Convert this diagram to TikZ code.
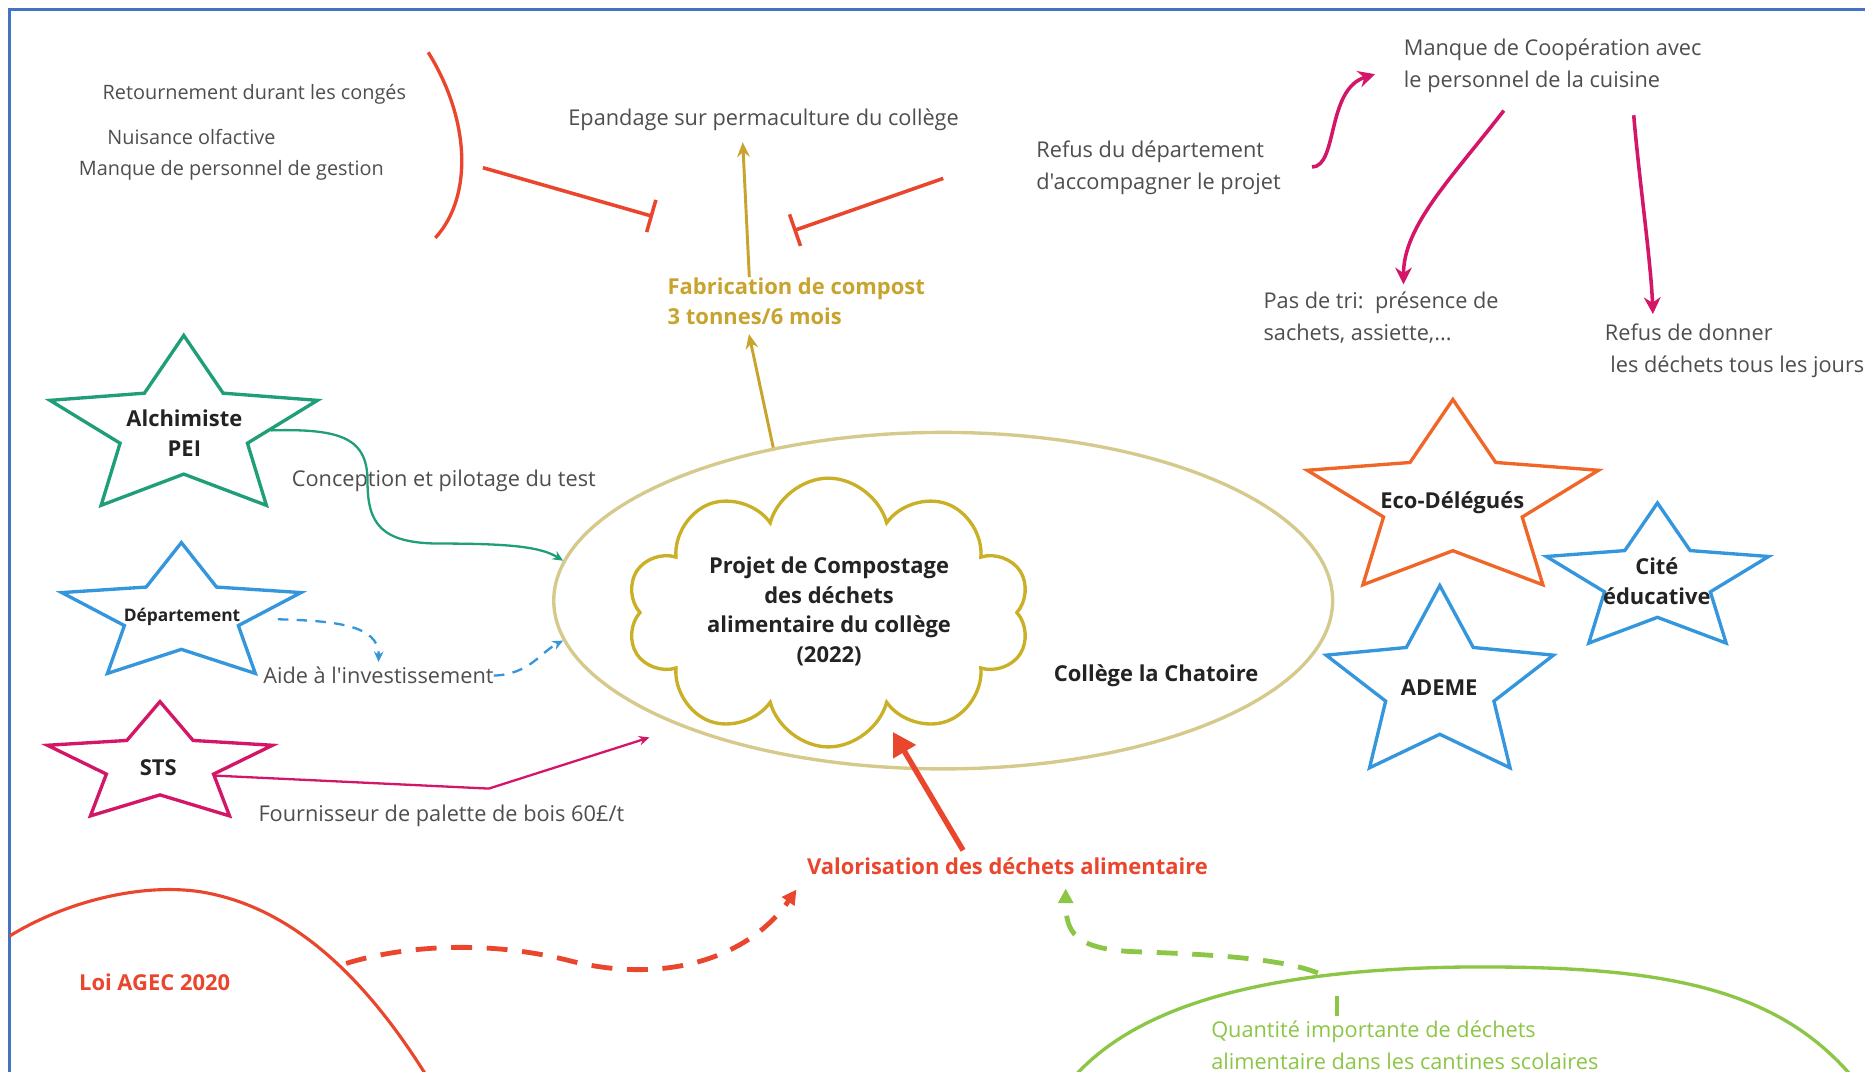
\documentclass[tikz,border=0pt]{standalone}
\usepackage{fontspec}
\setmainfont{Open Sans}[Ligatures=TeXOff]
\usepackage{xcolor}
\usetikzlibrary{positioning, arrows.meta, shapes.geometric, shapes.symbols}

\definecolor{framebl}{RGB}{68,114,196}
\definecolor{txtgray}{RGB}{78,78,78}
\definecolor{txtdark}{RGB}{35,35,35}
\definecolor{redor}{RGB}{233,70,45}
\definecolor{gold}{RGB}{200,163,45}
\definecolor{ellcol}{RGB}{214,201,140}
\definecolor{cloudcol}{RGB}{201,176,38}
\definecolor{alchgreen}{RGB}{32,158,122}
\definecolor{skyblue}{RGB}{52,150,220}
\definecolor{ecoorange}{RGB}{240,102,40}
\definecolor{rosered}{RGB}{212,22,104}
\definecolor{leafgreen}{RGB}{140,198,70}

\begin{document}
\begin{tikzpicture}[
    x=0.02cm, y=-0.02cm,
    lbl/.style={font=\fontsize{10.4}{15.3}\selectfont, text=txtgray, align=left, inner sep=0pt},
    smalllbl/.style={lbl, font=\fontsize{9.5}{14}\selectfont},
    blbl/.style={font=\fontsize{10.5}{14.3}\selectfont\bfseries, text=txtdark, align=center, inner sep=0pt},
    starbox/.style={star, star points=5, star point ratio=2.1, draw, line width=1.6pt, inner sep=0pt, transform shape},
    inhibit/.style={redor, line width=1.7pt, -{Bar[width=16pt]}},
    thinarrow/.style={line width=1.1pt, -{Stealth[length=5pt, width=4.5pt]}},
    pinkarrow/.style={rosered, line width=1.7pt, -{Stealth[length=8pt, width=8pt]}},
    goldarrow/.style={gold, line width=1.4pt, -{Stealth[length=7pt, width=6pt]}},
    bigdash/.style={line width=2.3pt, dash pattern=on 10pt off 7pt, -{Triangle[length=7pt, width=7pt]}}
]
    \clip (0,0) rectangle (1568,901);
    \fill[white] (0,0) rectangle (1568,901);
    \draw[framebl, line width=1.2pt] (1700,8) -- (8,8) -- (8,1000);

    % Obstacles
    \node[smalllbl, anchor=west] (retour) at (86,79) {Retournement durant les congés};
    \node[smalllbl, anchor=west] (nuisance) at (90,115) {Nuisance olfactive};
    \node[smalllbl, anchor=west] (manqueges) at (66,143) {Manque de personnel de gestion};
    \node[lbl, anchor=west] (refusdep) at (871,141) {Refus du département\\d'accompagner le projet};
    \node[lbl, anchor=west] (cooper) at (1180,55) {Manque de Coopération avec\\le personnel de la cuisine};
    \node[lbl, anchor=west] (pastri) at (1062,267) {Pas de tri:\ \ présence de\\sachets, assiette,...};
    \node[lbl, anchor=west] (refusdon) at (1349,295) {Refus de donner\\\hspace*{.25em}les déchets tous les jours};

    % Compost
    \node[lbl] (epandage) at (642,101) {Epandage sur permaculture du collège};
    \node[blbl, text=gold, align=left, anchor=west] (compost) at (561,253) {Fabrication de compost\\3 tonnes/6 mois};

    % College and project
    \node[ellipse, draw=ellcol, line width=1.6pt, minimum width=13.1cm, minimum height=5.66cm, inner sep=0pt] (college) at (793,505) {};
    \node[cloud, cloud puffs=10, cloud ignores aspect, draw=cloudcol, line width=1.6pt, minimum width=6.78cm, minimum height=4.52cm, inner sep=0pt] (projet) at (696.5,515) {};
    \node[blbl] (projtxt) at (697,514) {Projet de Compostage\\des déchets\\alimentaire du collège\\(2022)};
    \node[blbl] (chatoire) at (972,568) {Collège la Chatoire};

    % Actors
    \node[starbox, draw=alchgreen, minimum size=4.73cm, shift={(154.5,361)}, yscale=0.668] (alchstar) at (0,0) {};
    \node[starbox, draw=skyblue, minimum size=4.23cm, shift={(152.5,517)}, yscale=0.575] (depstar) at (0,0) {};
    \node[starbox, draw=rosered, minimum size=3.98cm, shift={(134.5,643)}, yscale=0.534] (stsstar) at (0,0) {};
    \node[starbox, draw=ecoorange, minimum size=5.15cm, shift={(1221.5,422)}, yscale=0.669] (ecostar) at (0,0) {};
    \node[starbox, draw=skyblue, minimum size=3.93cm, shift={(1393.5,488)}, yscale=0.663] (citestar) at (0,0) {};
    \node[starbox, draw=skyblue, minimum size=4.02cm, shift={(1210.5,577)}, yscale=0.843] (ademestar) at (0,0) {};
    \node[blbl] (alch) at (155,364) {Alchimiste\\PEI};
    \node[blbl, font=\fontsize{8.3}{10}\selectfont\bfseries] (dep) at (153,519) {Département};
    \node[blbl] (sts) at (133,645) {STS};
    \node[blbl] (eco) at (1221,423) {Eco-Délégués};
    \node[blbl] (cite) at (1393,489) {Cité\\éducative};
    \node[blbl] (ademe) at (1210,578) {ADEME};

    % Contributions
    \node[lbl, anchor=west] (conception) at (245,404) {Conception et pilotage du test};
    \node[lbl, anchor=west] (aide) at (221,568) {Aide à l'investissement};
    \node[lbl, anchor=west] (fournisseur) at (217,686) {Fournisseur de palette de bois 60£/t};

    % Context
    \node[blbl, text=redor] (valor) at (847,728) {Valorisation des déchets alimentaire};
    \node[blbl, text=redor] (loi) at (130,826) {Loi AGEC 2020};
    \node[lbl, text=leafgreen, anchor=west] (quantite) at (1018,879) {Quantité importante de déchets\\alimentaire dans les cantines scolaires};

    \coordinate (bracket) at (406,141);
    \coordinate (refusdir) at (793,150);
    \coordinate (blockL) at (549,182);
    \coordinate (blockR) at (667,194);
    \coordinate (stsend) at (546,620);
    \coordinate (loiedge) at (291,810);
    \coordinate (quantedge) at (1108,818);
    \coordinate (tickend) at (1124,837);

    % Shapes
    \draw[redor, line width=1.6pt] (360,44) .. controls (395,100) and (398,165) .. (366,200);
    \draw[redor, line width=1.5pt] (8,787) .. controls (60,755) and (130,740) .. (180,752) .. controls (260,770) and (320,840) .. (365,915);
    \draw[leafgreen, line width=1.6pt] (895,915) .. controls (945,850) and (1050,815) .. (1233,813) .. controls (1400,812) and (1500,830) .. (1565,915);

    % Arrows
    \draw[goldarrow, shorten >=0.16cm] (college.138) -- ([xshift=1.34cm]compost.south west);
    \draw[goldarrow, shorten >=0.18cm] ([xshift=1.38cm]compost.north west) -- ([xshift=-0.36cm]epandage.south);
    \draw[inhibit] (bracket) -- (blockL);
    \draw[inhibit] (refusdir) -- (blockR);

    \draw[pinkarrow, shorten <=0.52cm, shorten >=0.5cm] (refusdep.east) .. controls (1125,140) and (1115,75) .. (cooper.west);
    \draw[pinkarrow, shorten <=0.38cm, shorten >=0.12cm] ([xshift=1.92cm]cooper.south west) .. controls (1220,150) and (1180,190) .. ([xshift=2.36cm]pastri.north west);
    \draw[pinkarrow, shorten <=0.38cm, shorten >=0.16cm] ([xshift=3.84cm]cooper.south west) .. controls (1378,150) and (1388,220) .. ([xshift=0.82cm]refusdon.north west);

    \draw[thinarrow, alchgreen] (alchstar.-1) .. controls (290,360) and (309,370) .. (309,405) .. controls (309,440) and (320,457) .. (370,457) .. controls (430,457) and (455,460) .. (college.174);
    \draw[thinarrow, skyblue, dash pattern=on 5pt off 4pt, shorten <=0.4cm, shorten >=0.08cm] (depstar.-5) .. controls (280,522) and (319,525) .. (aide.north);
    \draw[thinarrow, skyblue, dash pattern=on 5pt off 4pt] (aide.east) .. controls (445,567) and (455,548) .. (college.186);
    \draw[thinarrow, rosered] (stsstar.-20) -- (411,663) -- (stsend);

    \draw[redor, line width=2.6pt, -{Triangle[length=11pt, width=12pt]}, shorten <=0.13cm, shorten >=0.32cm] ([xshift=-0.68cm]valor.north) -- (projet.-62);
    \draw[bigdash, redor, shorten >=0.3cm] (loiedge) .. controls (340,795) and (410,790) .. (480,808) .. controls (560,828) and (630,805) .. (valor.south west);
    \draw[bigdash, leafgreen, shorten >=0.23cm] (quantedge) .. controls (1075,805) and (1010,802) .. (950,800) .. controls (905,797) and (896,785) .. ([xshift=0.98cm]valor.south);
    \draw[leafgreen, line width=1.6pt, shorten <=0.08cm] (tickend |- quantite.north) -- (tickend);
\end{tikzpicture}
\end{document}
